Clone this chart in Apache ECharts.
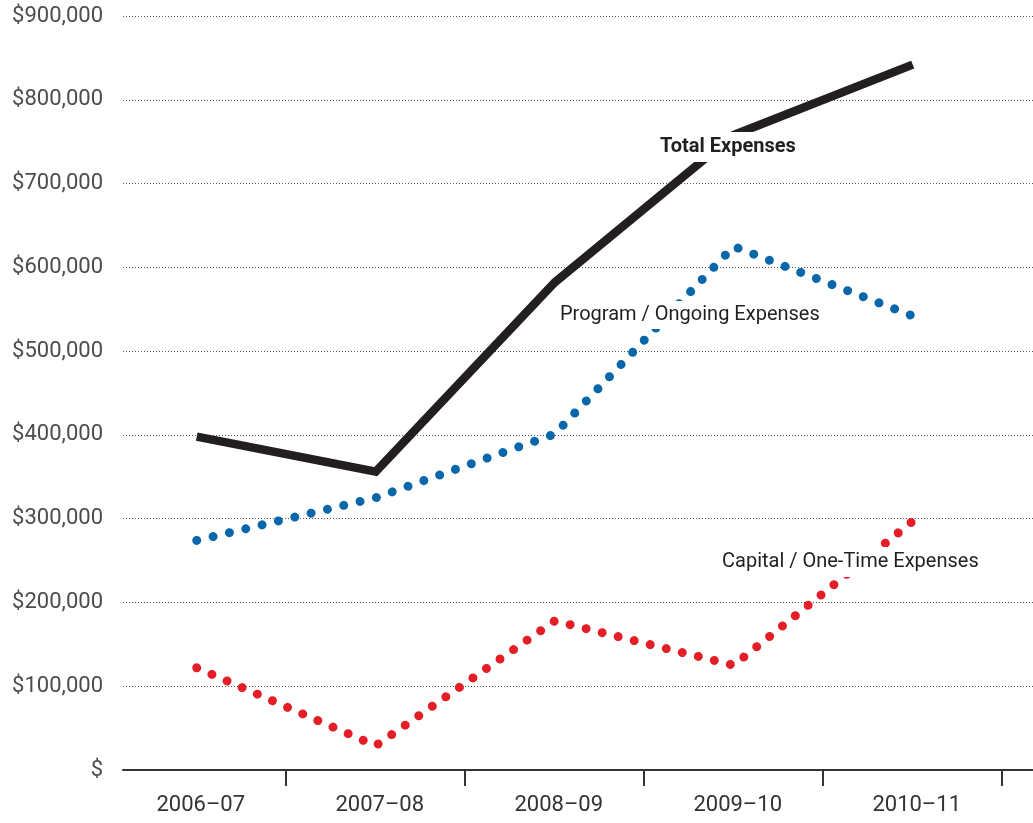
<!DOCTYPE html>
<html>
<head>
<meta charset="utf-8">
<script src="https://cdn.jsdelivr.net/npm/echarts@6/dist/echarts.min.js"></script>
<style>html,body{margin:0;padding:0;background:#fff}#c{width:1033px;height:823px}</style>
</head>
<body>
<div id="c"></div>
<script>
const categories = ['2006\u201307', '2007\u201308', '2008\u201309', '2009\u201310', '2010\u201311'];
const totalExpenses = [398000, 356000, 582000, 758000, 842000];
const programExpenses = [274000, 325000, 401000, 625000, 542000];
const capitalExpenses = [122000, 29000, 178000, 125000, 297000];
const yTicks = [0, 100000, 200000, 300000, 400000, 500000, 600000, 700000, 800000, 900000];
const seriesNames = ['Total Expenses', 'Program / Ongoing Expenses', 'Capital / One-Time Expenses'];

const pairs = arr => arr.map((v, i) => [i, v]);
const FONT = 'Roboto, "Liberation Sans", sans-serif';

const chart = echarts.init(document.getElementById('c'));
chart.setOption({
  animation: false,
  backgroundColor: '#fff',
  grid: { left: 123, right: 0, top: 16, bottom: 53 },
  xAxis: {
    type: 'value',
    min: -0.412,
    max: 4.672,
    axisLine: { show: true, lineStyle: { color: '#333', width: 2 } },
    axisTick: { show: true, customValues: [0.5, 1.5, 2.5, 3.5, 4.5], length: 16, lineStyle: { color: '#333', width: 2 } },
    axisLabel: {
      customValues: [0, 1, 2, 3, 4],
      formatter: v => categories[Math.round(v)],
      margin: 24, fontSize: 22, color: '#333', fontFamily: FONT, padding: [0, 0, 0, 8]
    },
    splitLine: { show: false }
  },
  yAxis: {
    type: 'value',
    min: yTicks[0],
    max: yTicks[yTicks.length - 1],
    interval: 100000,
    axisLine: { show: false },
    axisTick: { show: false },
    axisLabel: {
      formatter: v => v === 0 ? '$' : '$' + v.toLocaleString('en-US'),
      margin: 20, fontSize: 22, color: '#4d4d4d', fontFamily: FONT
    },
    splitLine: { show: true, lineStyle: { type: [1, 2], color: '#555', width: 1 } }
  },
  series: [
    {
      name: seriesNames[0], type: 'line', data: pairs(totalExpenses), symbol: 'none', z: 3,
      lineStyle: { color: '#231f20', width: 8.5, cap: 'butt', join: 'miter' }
    },
    {
      name: seriesNames[1], type: 'line', data: pairs(programExpenses), symbol: 'none', z: 2,
      lineStyle: { color: '#0767aa', width: 9, type: [0.01, 16.78], cap: 'round' }
    },
    {
      name: seriesNames[2], type: 'line', data: pairs(capitalExpenses), symbol: 'none', z: 2,
      lineStyle: { color: '#e31e26', width: 9, type: [0.01, 16.5], cap: 'round' }
    }
  ],
  graphic: [
    { type: 'text', z: 100, style: { x: 656, y: 147, text: seriesNames[0], verticalAlign: 'middle', align: 'left',
      font: 'bold 20px ' + FONT, fill: '#231f20', backgroundColor: '#fff', padding: [5, 4] } },
    { type: 'text', z: 100, style: { x: 556, y: 315, text: seriesNames[1], verticalAlign: 'middle', align: 'left',
      font: '20px ' + FONT, fill: '#231f20', backgroundColor: '#fff', padding: [4, 4] } },
    { type: 'text', z: 100, style: { x: 718, y: 562, text: seriesNames[2], verticalAlign: 'middle', align: 'left',
      font: '20px ' + FONT, fill: '#231f20', backgroundColor: '#fff', padding: [5, 4] } }
  ]
});
</script>
</body>
</html>
